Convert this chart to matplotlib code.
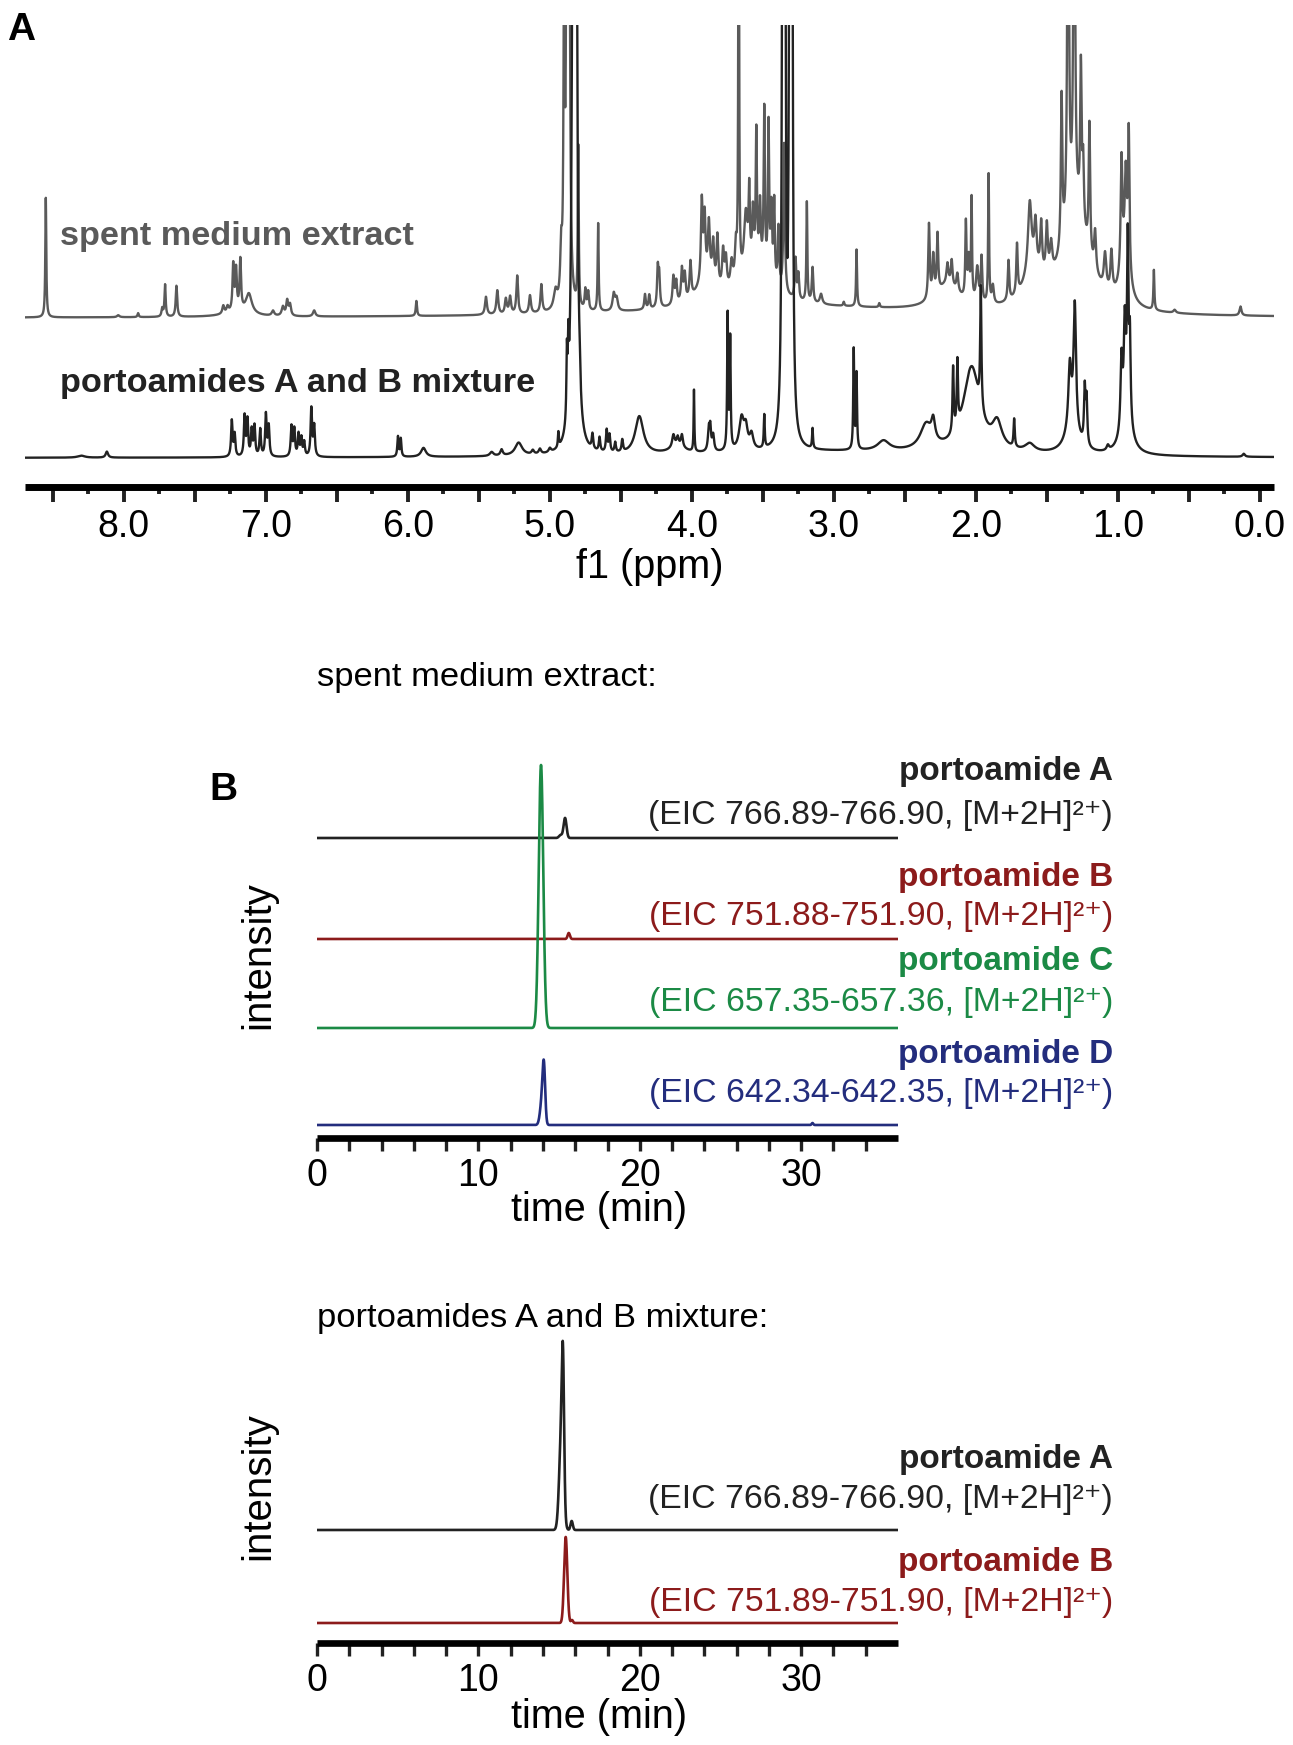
import numpy as np
import matplotlib
matplotlib.use("Agg")
import matplotlib.pyplot as plt
from matplotlib.ticker import MultipleLocator, FuncFormatter

plt.rcParams['font.family'] = ['Liberation Sans', 'DejaVu Sans']

# ---- panel A: 1H NMR peak lists (ppm, height, half width) ----
extract_ppm = [8.55, 8.04, 7.90, 7.73, 7.71, 7.63, 7.30, 7.27, 7.23, 7.21, 7.18, 7.12,
               6.95, 6.88, 6.85, 6.83, 6.66, 5.94, 5.45, 5.37, 5.31, 5.28, 5.23, 5.14,
               5.06, 4.96, 4.92, 4.90, 4.88, 4.865, 4.80, 4.75, 4.73, 4.66, 4.55, 4.53,
               4.33, 4.30, 4.24, 4.23, 4.13, 4.11, 4.07, 4.05, 4.01, 3.93, 3.91, 3.88,
               3.85, 3.82, 3.78, 3.76, 3.72, 3.69, 3.67, 3.62, 3.596, 3.57, 3.546, 3.52,
               3.49, 3.46, 3.44, 3.42, 3.39, 3.35, 3.27, 3.25, 3.19, 3.15, 3.09, 2.93,
               2.84, 2.68, 2.33, 2.30, 2.27, 2.20, 2.17, 2.13, 2.07, 2.05, 2.03, 1.99,
               1.96, 1.91, 1.88, 1.77, 1.71, 1.62, 1.58, 1.54, 1.50, 1.47, 1.396, 1.35,
               1.307, 1.26, 1.244, 1.20, 1.16, 1.09, 1.045, 0.974, 0.944, 0.923, 0.746,
               0.60, 0.136,
               1.30, 0.95, 3.55, 3.90, 2.20, 1.60, 3.30, 7.20]
extract_h = [120, 2, 4, 8, 32, 31, 8, 6, 46, 40, 50, 20,
             5, 9, 15, 11, 6, 15, 18, 24, 15, 17, 38, 18,
             28, 18, 50, 300, 600, 600, 160, 20, 18, 88, 17, 12,
             15, 14, 38, 30, 28, 22, 33, 26, 36, 80, 60, 55,
             40, 50, 38, 30, 25, 35, 600, 60, 70, 50, 130, 60,
             160, 150, 70, 80, 60, 150, 40, 25, 100, 35, 10, 4,
             57, 4, 75, 40, 58, 20, 25, 18, 75, 40, 100, 35,
             45, 130, 18, 40, 50, 70, 45, 50, 50, 30, 150, 500,
             500, 150, 60, 130, 40, 35, 40, 110, 80, 140, 40,
             3, 9,
             100, 50, 40, 25, 25, 30, 10, 5]
extract_w = [0.004, 0.01, 0.005, 0.006, 0.005, 0.006, 0.008, 0.008, 0.006, 0.006, 0.006, 0.025,
             0.01, 0.01, 0.008, 0.008, 0.01, 0.005, 0.008, 0.008, 0.008, 0.008, 0.007, 0.008,
             0.007, 0.015, 0.008, 0.005, 0.005, 0.006, 0.004, 0.006, 0.006, 0.004, 0.01, 0.01,
             0.006, 0.006, 0.006, 0.006, 0.007, 0.007, 0.007, 0.007, 0.007, 0.007, 0.007, 0.008,
             0.008, 0.007, 0.008, 0.008, 0.01, 0.008, 0.003, 0.015, 0.005, 0.006, 0.005, 0.006,
             0.005, 0.005, 0.006, 0.005, 0.006, 0.006, 0.006, 0.006, 0.004, 0.006, 0.01, 0.005,
             0.004, 0.005, 0.006, 0.007, 0.006, 0.008, 0.007, 0.008, 0.005, 0.007, 0.004, 0.01,
             0.006, 0.004, 0.008, 0.006, 0.006, 0.015, 0.01, 0.008, 0.008, 0.01, 0.006, 0.006,
             0.006, 0.006, 0.006, 0.006, 0.008, 0.01, 0.008, 0.007, 0.008, 0.006, 0.004,
             0.01, 0.008,
             0.11, 0.035, 0.12, 0.08, 0.1, 0.08, 1.2, 0.1]

mixture_ppm = [8.30, 8.12, 7.24, 7.22, 7.15, 7.13, 7.10, 7.08, 7.04, 7.00, 6.98, 6.82,
               6.80, 6.77, 6.75, 6.73, 6.68, 6.66, 6.07, 6.05, 5.89, 5.41, 5.34, 5.22,
               5.12, 5.07, 5.00, 4.94, 4.88, 4.87, 4.835, 4.815, 4.79, 4.70, 4.65, 4.60,
               4.58, 4.54, 4.49, 4.37, 4.13, 4.10, 4.07, 4.10, 3.985, 3.88, 3.87, 3.85,
               3.748, 3.73, 3.65, 3.62, 3.58, 3.49, 3.36, 3.345, 3.31, 3.295, 3.15, 2.86,
               2.84, 2.65, 2.35, 2.30, 2.16, 2.13, 2.03, 1.965, 1.85, 1.73, 1.62, 1.338,
               1.303, 1.32, 1.233, 1.22, 1.07, 0.974, 0.951, 0.93, 0.915, 0.94, 0.113, 3.0]
mixture_h = [2, 6, 36, 22, 40, 36, 26, 30, 27, 42, 30, 30,
             27, 22, 18, 14, 48, 30, 20, 18, 9, 4, 6, 13,
             4, 5, 4, 15, 65, 60, 700, 700, 20, 15, 14, 22,
             17, 10, 12, 38, 12, 8, 12, 8, 62, 22, 20, 16,
             135, 110, 32, 20, 15, 33, 700, 700, 700, 700, 20, 100,
             75, 10, 25, 20, 65, 65, 85, 120, 25, 28, 8, 60,
             120, 30, 55, 45, 5, 70, 90, 170, 80, 40, 3, 6]
mixture_w = [0.03, 0.01, 0.006, 0.006, 0.006, 0.006, 0.006, 0.006, 0.006, 0.006, 0.006, 0.006,
             0.006, 0.006, 0.006, 0.006, 0.006, 0.006, 0.005, 0.005, 0.02, 0.015, 0.01, 0.03,
             0.01, 0.01, 0.01, 0.004, 0.004, 0.004, 0.01, 0.008, 0.006, 0.006, 0.006, 0.006,
             0.006, 0.006, 0.006, 0.035, 0.01, 0.008, 0.008, 0.06, 0.003, 0.008, 0.006, 0.008,
             0.004, 0.004, 0.02, 0.015, 0.015, 0.004, 0.006, 0.006, 0.006, 0.006, 0.004, 0.004,
             0.004, 0.05, 0.05, 0.015, 0.005, 0.005, 0.07, 0.005, 0.04, 0.005, 0.04, 0.012,
             0.01, 0.05, 0.006, 0.006, 0.01, 0.008, 0.008, 0.006, 0.006, 0.04, 0.01, 1.2]

# ---- panel B: EIC peak lists (retention time min, height, sigma) ----
extract_A_t, extract_A_h, extract_A_s = [15.10, 15.37], [3, 20], [0.10, 0.09]
extract_B_t, extract_B_h, extract_B_s = [15.60], [6], [0.07]
extract_C_t, extract_C_h, extract_C_s = [13.88], [263], [0.14]
extract_D_t, extract_D_h, extract_D_s = [13.95, 14.06, 30.7], [25, 48, 2], [0.12, 0.08, 0.05]
mix_A_t, mix_A_h, mix_A_s = [15.14, 15.24, 15.78], [95, 115, 9], [0.13, 0.07, 0.07]
mix_B_t, mix_B_h, mix_B_s = [15.41, 15.80], [86, 3], [0.10, 0.06]

labels_extract = ["portoamide A", "portoamide B", "portoamide C", "portoamide D"]
eic_extract = ["766.89-766.90", "751.88-751.90", "657.35-657.36", "642.34-642.35"]
labels_mix = ["portoamide A", "portoamide B"]
eic_mix = ["766.89-766.90", "751.89-751.90"]

C_BLACK = '#222222'
C_RED = '#8c1b1b'
C_GREEN = '#1b8a45'
C_BLUE = '#232d7d'
C_GRAY = '#5a5a5a'


def lorentz(x, pos, h, w):
    y = np.zeros_like(x)
    for p, a, g in zip(pos, h, w):
        y += a / (1 + ((x - p) / g) ** 2)
    return y


def gauss(x, pos, h, s):
    y = np.zeros_like(x)
    for p, a, g in zip(pos, h, s):
        y += a * np.exp(-0.5 * ((x - p) / g) ** 2)
    return y


W, H = 1293, 1745
fig = plt.figure(figsize=(W / 100, H / 100), dpi=100)


def px_axes(x0, x1, ytop, ybot):
    return fig.add_axes([x0 / W, 1 - ybot / H, (x1 - x0) / W, (ybot - ytop) / H])


def style_axis(ax, lw=5):
    for s in ['left', 'right', 'top']:
        ax.spines[s].set_visible(False)
    ax.spines['bottom'].set_linewidth(lw)
    ax.spines['bottom'].set_capstyle('butt')
    ax.set_yticks([])
    ax.patch.set_alpha(0)


# ---------------- panel A ----------------
axA = px_axes(24.5, 1274, 24.5, 487)
ppm = np.linspace(8.70, -0.10, 14000)
axA.plot(ppm, 169 + lorentz(ppm, extract_ppm, extract_h, extract_w), color=C_GRAY, lw=1.7)
axA.plot(ppm, 29 + lorentz(ppm, mixture_ppm, mixture_h, mixture_w), color=C_BLACK, lw=1.7)
axA.set_xlim(8.70, -0.10)
axA.set_ylim(0, 462.5)
style_axis(axA)
axA.xaxis.set_major_locator(MultipleLocator(0.5))
axA.xaxis.set_minor_locator(MultipleLocator(0.25))
axA.xaxis.set_major_formatter(FuncFormatter(
    lambda v, p: f"{v:.1f}" if abs(v - round(v)) < 1e-6 else ""))
axA.tick_params(axis='x', which='major', length=10.5, width=2.8, pad=5,
                labelsize=27, direction='out', color=C_BLACK)
axA.tick_params(axis='x', which='minor', length=5, width=2.8, direction='out', color=C_BLACK)

fig.text(7 / W, 1 - 40 / H, "A", fontsize=28, fontweight='bold', va='baseline')
fig.text(60 / W, 1 - 245 / H, "spent medium extract", fontsize=24.7, fontweight='bold',
         color=C_GRAY, va='baseline')
fig.text(60 / W, 1 - 392 / H, "portoamides A and B mixture", fontsize=24.7,
         fontweight='bold', color=C_BLACK, va='baseline')
fig.text(650 / W, 1 - 567 / H, "f1 (ppm)", fontsize=28.5, ha='center', va='center')

# ---------------- panel B ----------------
t = np.linspace(0, 36, 7201)


def style_b(ax):
    style_axis(ax, lw=4.8)
    ax.set_xlim(0, 36)
    ax.set_xticks(np.arange(0, 35, 2))
    ax.set_xticklabels([str(v) if v % 10 == 0 else "" for v in range(0, 35, 2)])
    ax.tick_params(axis='x', length=9.6, width=2.4, pad=5, labelsize=27,
                   direction='out', color=C_BLACK)


axB1 = px_axes(317, 898, 758, 1138)
axB1.set_ylim(0, 380)
axB1.plot(t, 300 + gauss(t, extract_A_t, extract_A_h, extract_A_s), color=C_BLACK, lw=1.9)
axB1.plot(t, 199 + gauss(t, extract_B_t, extract_B_h, extract_B_s), color=C_RED, lw=1.9)
axB1.plot(t, 110 + gauss(t, extract_C_t, extract_C_h, extract_C_s), color=C_GREEN, lw=1.9)
axB1.plot(t, 13 + gauss(t, extract_D_t, extract_D_h, extract_D_s), color=C_BLUE, lw=1.9)
style_b(axB1)

axB2 = px_axes(317, 898, 1328, 1643)
axB2.set_ylim(0, 315)
axB2.plot(t, 113 + gauss(t, mix_A_t, mix_A_h, mix_A_s), color=C_BLACK, lw=1.9)
axB2.plot(t, 20 + gauss(t, mix_B_t, mix_B_h, mix_B_s), color=C_RED, lw=1.9)
style_b(axB2)

fig.text(317 / W, 1 - 686 / H, "spent medium extract:", fontsize=24.8, va='baseline')
fig.text(209 / W, 1 - 800 / H, "B", fontsize=28, fontweight='bold', va='baseline')
fig.text(317 / W, 1 - 1327 / H, "portoamides A and B mixture:", fontsize=24.8, va='baseline')

for yc in (955, 1486):
    fig.text(258 / W, 1 - yc / H, "intensity", fontsize=29, rotation=90,
             ha='center', va='center')
for yc in (1210, 1717):
    fig.text(599 / W, 1 - yc / H, "time (min)", fontsize=28.5, ha='center', va='center')

colors_extract = [C_BLACK, C_RED, C_GREEN, C_BLUE]
name_y = [780, 886, 970, 1063]
eic_y = [824, 925, 1011, 1102]
for name, eic, c, y1, y2 in zip(labels_extract, eic_extract, colors_extract, name_y, eic_y):
    fig.text(1113 / W, 1 - y1 / H, name, fontsize=24, fontweight='bold', color=c,
             ha='right', va='baseline')
    fig.text(1113 / W, 1 - y2 / H, f"(EIC {eic}, [M+2H]\u00b2\u207a)", fontsize=24.3,
             color=c, ha='right', va='baseline')

colors_mix = [C_BLACK, C_RED]
name_y2 = [1468, 1571]
eic_y2 = [1508, 1611]
for name, eic, c, y1, y2 in zip(labels_mix, eic_mix, colors_mix, name_y2, eic_y2):
    fig.text(1113 / W, 1 - y1 / H, name, fontsize=24, fontweight='bold', color=c,
             ha='right', va='baseline')
    fig.text(1113 / W, 1 - y2 / H, f"(EIC {eic}, [M+2H]\u00b2\u207a)", fontsize=24.3,
             color=c, ha='right', va='baseline')

fig.savefig("out.png", dpi=100)
